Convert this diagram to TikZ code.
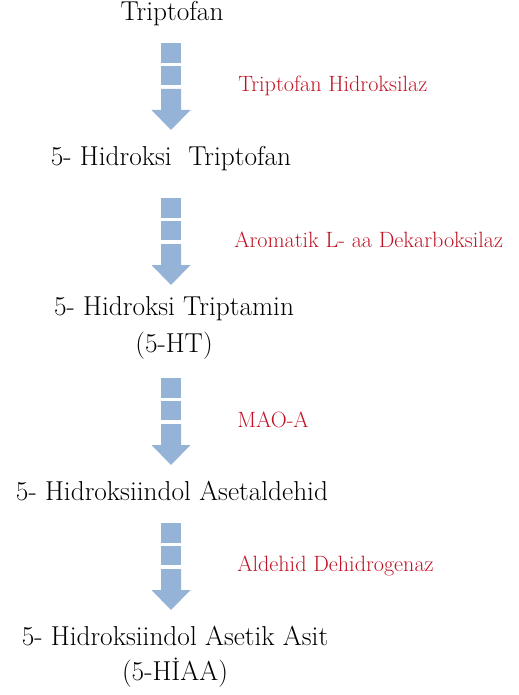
\documentclass[tikz,border=0pt]{standalone}
\usepackage{fontspec}
\definecolor{arrblue}{RGB}{149,179,215}
\definecolor{enzred}{RGB}{192,18,36}

% striped block arrow pointing down, top centre at #1
\newcommand\blockdown[1]{%
  \begin{scope}[shift={(#1)}]
    \fill[arrblue] (-10,0) rectangle (10,20);
    \fill[arrblue] (-10,23) rectangle (10,42);
    \fill[arrblue] (-10,46) -- (10,46) -- (10,67) -- (19.5,67) -- (0,87)
      -- (-19.5,67) -- (-10,67) -- cycle;
  \end{scope}}

\begin{document}
\begin{tikzpicture}[x=0.75pt, y=-0.75pt,
    mol/.style={anchor=base, inner sep=0pt, font=\fontsize{20.5}{24}\selectfont},
    enz/.style={anchor=base west, inner sep=0pt, text=enzred, font=\fontsize{16.6}{19}\selectfont}]
  \useasboundingbox (0,0) rectangle (518,695);

  \node[mol] (trp) at (172,21) {Triptofan};
  \node[mol] (htrp) at (171,166) {5- Hidroksi\ \ Triptofan};
  \node[mol] (ht) at (174,315) {5- Hidroksi Triptamin};
  \node[mol] (htabbr) at (174,352) {(5-HT)};
  \node[mol] (hial) at (172,500) {5- Hidroksiindol Asetaldehid};
  \node[mol] (hiaa) at (175,645) {5- Hidroksiindol Asetik Asit};
  \node[mol] (hiaaabbr) at (175,680) {(5-HİAA)};

  \coordinate (a1) at (171,43);
  \coordinate (a2) at (171,198);
  \coordinate (a3) at (171,378);
  \coordinate (a4) at (171,523);
  \blockdown{a1}
  \blockdown{a2}
  \blockdown{a3}
  \blockdown{a4}

  \node[enz] (e1) at (238,92) {Triptofan Hidroksilaz};
  \node[enz] (e2) at (234,247) {Aromatik L- aa Dekarboksilaz};
  \node[enz] (e3) at (237,427) {MAO-A};
  \node[enz] (e4) at (237,571) {Aldehid Dehidrogenaz};
\end{tikzpicture}
\end{document}
